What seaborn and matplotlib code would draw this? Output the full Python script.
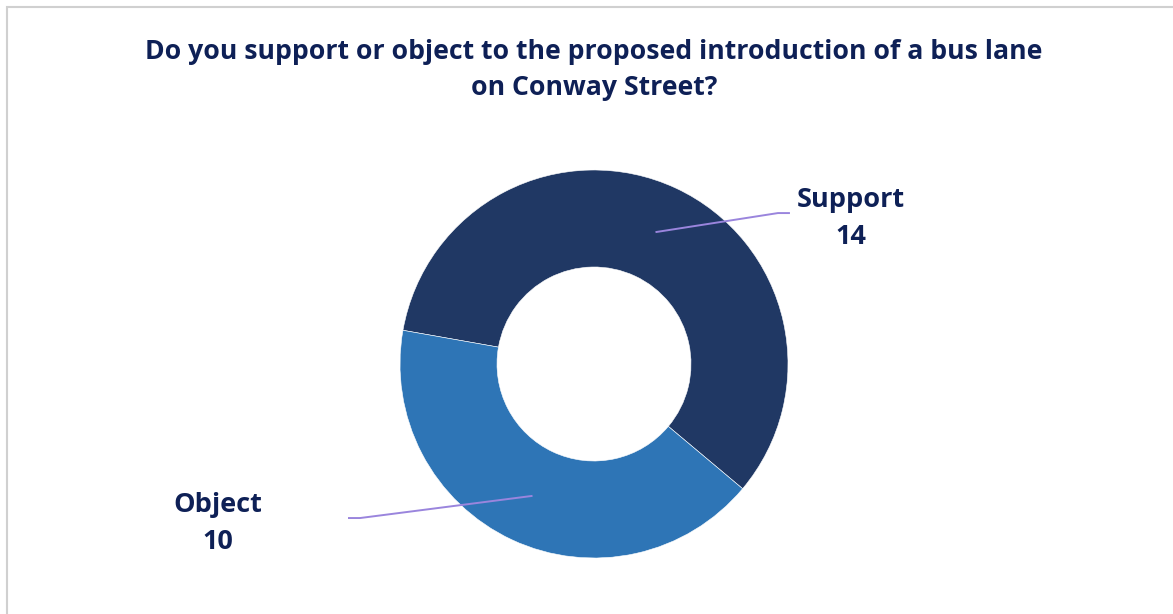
import matplotlib
matplotlib.use("Agg")
import matplotlib.pyplot as plt
import seaborn as sns
import numpy as np

# Survey responses
categories = ["Support", "Object"]
counts = [14, 10]
colors = ["#203864", "#2E75B6"]
title = "Do you support or object to the proposed introduction of a bus lane\non Conway Street?"

sns.set_theme(style="white")
plt.rcParams["font.family"] = ["Open Sans", "DejaVu Sans"]

W, H = 1173, 614
fig = plt.figure(figsize=(W / 100, H / 100), dpi=100)
fig.patch.set_facecolor("white")

# light frame around the chart area
fig.patches.append(plt.Rectangle((7 / W, -0.05), 1.2, 1 - 7 / H + 0.05,
                                 transform=fig.transFigure, fill=False,
                                 edgecolor="#D0D0D0", linewidth=1.5))

cx, cy, r = 594, 364, 194
ax = fig.add_axes([(cx - r) / W, (H - cy - r) / H, 2 * r / W, 2 * r / H])
wedges, _ = ax.pie(counts, colors=colors, startangle=170, counterclock=False,
                   radius=1.0, wedgeprops=dict(width=0.5, edgecolor="white", linewidth=0.4))
ax.set_xlim(-1, 1)
ax.set_ylim(-1, 1)
ax.set_aspect("equal")
ax.axis("off")

fig.text(cx / W, 1 - 70 / H, title, ha="center", va="center", fontsize=19.2,
         fontweight="bold", color="#0E2056", linespacing=1.5)

# label placement per slice: (elbow x, elbow y, end x, text x, text y)
label_layout = {
    "Support": (0.948, 0.778, 1.01, 1.325, 0.75),
    "Object": (-1.206, -0.794, -1.268, -1.938, -0.82),
}
line_color = "#9A85DD"
for w, name, val in zip(wedges, categories, counts):
    mid = np.deg2rad((w.theta1 + w.theta2) / 2)
    sx, sy = 0.75 * np.cos(mid), 0.75 * np.sin(mid)
    ex, ey, endx, tx, ty = label_layout[name]
    ax.plot([sx, ex, endx], [sy, ey, ey], color=line_color, linewidth=1.4,
            clip_on=False, solid_capstyle="butt")
    ax.text(tx, ty, f"{name}\n{val}", ha="center", va="center", fontsize=19.5,
            fontweight="bold", color="#0E2056", linespacing=1.55, clip_on=False)

fig.savefig("out.png", dpi=100, facecolor="white")
